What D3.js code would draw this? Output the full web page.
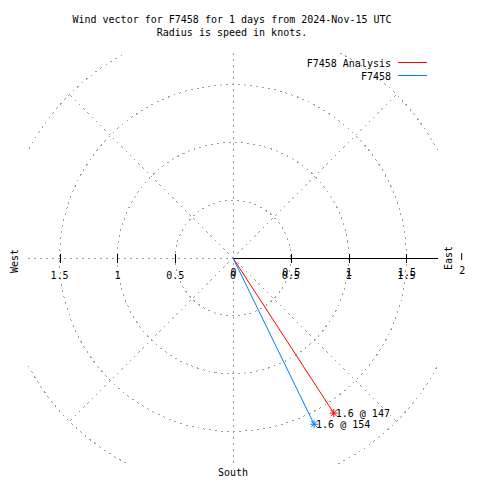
<!DOCTYPE html>
<html>
<head>
<meta charset="utf-8">
<script src="https://cdn.jsdelivr.net/npm/d3@7"></script>
<style>
  html, body { margin: 0; padding: 0; background: #fff; }
  text { font-family: "DejaVu Sans Mono", monospace; font-size: 10px; fill: #000; }
</style>
</head>
<body>
<svg id="chart" width="480" height="480"></svg>
<script>
// ---- data ----
const titleLines = ["Wind vector for F7458 for 1 days from 2024-Nov-15 UTC", "Radius is speed in knots."];
const seriesNames = ["F7458 Analysis", "F7458"];
const speeds = [1.6, 1.6];          // knots
const directions = [147, 154];      // degrees clockwise from north
const seriesColors = ["#ff0000", "#0080ff"];
const gridRadii = [0.5, 1, 1.5, 2];
const spokeAngles = [45, 135, 225, 315];
const axisTicks = [-1.5, -1, -0.5, 0, 0.5, 1, 1.5];
const compassLabels = ["East", "West", "South"];

// ---- layout ----
const svg = d3.select("#chart");
const cx = 233, cy = 258;
const pxPerKnot = 115.6;
const half = 205;
const xs = d3.scaleLinear().domain([-half / pxPerKnot, half / pxPerKnot]).range([cx - half, cx + half]);
const ys = d3.scaleLinear().domain([-half / pxPerKnot, half / pxPerKnot]).range([cy + half, cy - half]);
const rs = d3.scaleLinear().domain([0, 2]).range([0, 2 * pxPerKnot]);

svg.append("defs").append("clipPath").attr("id", "plotclip")
  .append("rect").attr("x", cx - half).attr("y", cy - half).attr("width", 2 * half).attr("height", 2 * half + 1);

const grid = svg.append("g").attr("clip-path", "url(#plotclip)");
const gridStyle = sel => sel.attr("fill", "none").attr("stroke", "#a0a0a0").attr("stroke-width", 1)
  .attr("stroke-dasharray", "2,4").attr("shape-rendering", "crispEdges");

// circles
grid.selectAll("circle.grid").data(gridRadii).join("circle")
  .attr("cx", xs(0)).attr("cy", ys(0)).attr("r", d => rs(d)).call(gridStyle);

// spokes (to outer circle)
const outer = d3.max(gridRadii);
grid.selectAll("line.spoke").data(spokeAngles).join("line")
  .attr("x1", xs(0)).attr("y1", ys(0))
  .attr("x2", d => xs(outer * Math.sin(d * Math.PI / 180)))
  .attr("y2", d => ys(outer * Math.cos(d * Math.PI / 180)))
  .call(gridStyle);

// vertical zero axis (dashed)
grid.append("line").attr("x1", xs(0) + 0.5).attr("x2", xs(0) + 0.5)
  .attr("y1", cy - half).attr("y2", cy + half).call(gridStyle);
// left half of horizontal axis (dashed)
grid.append("line").attr("x1", cx - half).attr("x2", xs(0))
  .attr("y1", ys(0) + 0.5).attr("y2", ys(0) + 0.5).call(gridStyle);
// right half solid
svg.append("line").attr("x1", xs(0)).attr("x2", cx + half)
  .attr("y1", ys(0) + 0.5).attr("y2", ys(0) + 0.5)
  .attr("stroke", "#000").attr("stroke-width", 1.2);

// ticks
svg.selectAll("line.tick").data(axisTicks.filter(d => d !== 0)).join("line")
  .attr("x1", d => Math.round(xs(d)) + 0.5).attr("x2", d => Math.round(xs(d)) + 0.5)
  .attr("y1", ys(0) - 4).attr("y2", ys(0) + 5)
  .attr("stroke", "#000").attr("stroke-width", 1);

const fmt = d => String(Math.abs(d));
svg.selectAll("text.tl").data(axisTicks).join("text")
  .attr("x", d => xs(d)).attr("y", ys(0) + 21)
  .attr("text-anchor", "middle").text(fmt);
// overstruck duplicate labels on the right half
svg.selectAll("text.tr").data(axisTicks.filter(d => d >= 0)).join("text")
  .attr("x", d => xs(d) + 0.5).attr("y", ys(0) + 18)
  .attr("text-anchor", "middle").text(fmt);

// tick at 2 outside border
svg.append("line").attr("x1", xs(2) - 2.5).attr("x2", xs(2) - 2.5)
  .attr("y1", ys(0) - 5).attr("y2", ys(0) + 2).attr("stroke", "#000");
svg.append("text").attr("x", xs(2) - 2).attr("y", ys(0) + 16).attr("text-anchor", "middle").text("2");

// compass labels
svg.append("text").attr("transform", `translate(${cx + half + 14},${cy}) rotate(-90)`)
  .attr("text-anchor", "middle").text(compassLabels[0]);
svg.append("text").attr("transform", `translate(${cx - half - 10},${cy + 3}) rotate(-90)`)
  .attr("text-anchor", "middle").text(compassLabels[1]);
svg.append("text").attr("x", cx).attr("y", cy + half + 13)
  .attr("text-anchor", "middle").text(compassLabels[2]);

// title
svg.selectAll("text.title").data(titleLines).join("text")
  .attr("x", 232).attr("y", (d, i) => 23 + i * 13)
  .attr("text-anchor", "middle").text(d => d);

// vectors
const series = seriesNames.map((n, i) => ({ name: n, speed: speeds[i], dir: directions[i], color: seriesColors[i] }));
const px = d => xs(d.speed * Math.sin(d.dir * Math.PI / 180));
const py = d => ys(d.speed * Math.cos(d.dir * Math.PI / 180));

const vg = svg.append("g");
vg.selectAll("line.vec").data(series).join("line")
  .attr("x1", xs(0)).attr("y1", ys(0)).attr("x2", px).attr("y2", py)
  .attr("stroke", d => d.color).attr("stroke-width", 1);

vg.selectAll("g.mk").data(series).join("g")
  .attr("transform", d => `translate(${px(d)},${py(d)})`)
  .each(function (d) {
    d3.select(this).append("path").attr("d", "M-4,0H4M0,-4V4M-3,-3L3,3M-3,3L3,-3")
      .attr("stroke", d.color).attr("stroke-width", 1).attr("fill", "none");
  });
vg.selectAll("text.vl").data(series).join("text")
  .attr("x", d => px(d) + 2).attr("y", d => py(d) + 4)
  .text(d => `${d3.format(".1f")(d.speed)} @ ${d.dir}`);

// legend
const lg = svg.append("g");
series.forEach((d, i) => {
  lg.append("text").attr("x", 391).attr("y", 67 + i * 13).attr("text-anchor", "end").text(d.name);
  lg.append("line").attr("x1", 398).attr("x2", 427)
    .attr("y1", 62.5 + i * 13).attr("y2", 62.5 + i * 13)
    .attr("stroke", d.color).attr("stroke-width", 1);
});
</script>
</body>
</html>
